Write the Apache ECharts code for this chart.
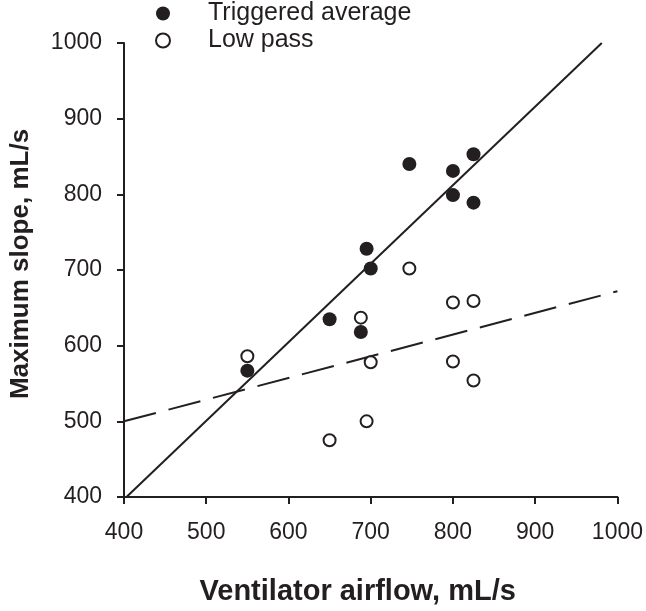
<!DOCTYPE html>
<html>
<head>
<meta charset="utf-8">
<script src="https://cdn.jsdelivr.net/npm/echarts@6/dist/echarts.min.js"></script>
<style>
html,body{margin:0;padding:0;background:#fff;}
#chart{width:646px;height:611px;}
</style>
</head>
<body>
<div id="chart"></div>
<script>
// ---- data ----
const triggeredX = [550, 650, 688, 695, 700, 747, 800, 800, 825, 825];
const triggeredY = [567, 635, 618, 728, 702, 840, 831, 799, 853, 789];
const lowPassX = [550, 650, 688, 695, 700, 747, 800, 800, 825, 825];
const lowPassY = [586, 475, 637, 500, 578, 702, 657, 579, 659, 554];
// regression lines (end points)
const triggeredFitX = [403, 981];
const triggeredFitY = [400, 1000];
const lowPassFitX = [400, 1000];
const lowPassFitY = [500, 672];
const xTicks = [400, 500, 600, 700, 800, 900, 1000];
const yTicks = [400, 500, 600, 700, 800, 900, 1000];
const seriesNames = ['Triggered average', 'Low pass'];
const xTitle = 'Ventilator airflow, mL/s';
const yTitle = 'Maximum slope, mL/s';

const ink = '#231f20';
const font = '"Liberation Sans", Arial, Helvetica, sans-serif';
const zip = (a, b) => a.map((v, i) => [v, b[i]]);
const plain = v => String(v);

const chart = echarts.init(document.getElementById('chart'), null, {renderer: 'canvas'});
chart.setOption({
  backgroundColor: '#fff',
  animation: false,
  grid: {left: 119, right: 27, top: 43, bottom: 107, containLabel: false},
  legend: {
    orient: 'vertical',
    left: 150,
    top: -4,
    itemWidth: 14,
    itemHeight: 14,
    itemGap: 2,
    data: seriesNames,
    textStyle: {fontFamily: font, fontSize: 25, color: ink, lineHeight: 25, padding: [0, 0, 0, 33]}
  },
  xAxis: {
    type: 'value',
    min: xTicks[0],
    max: xTicks[xTicks.length - 1],
    interval: xTicks[1] - xTicks[0],
    name: xTitle,
    nameLocation: 'middle',
    nameGap: 80,
    nameTextStyle: {fontFamily: font, fontSize: 29, fontWeight: 'bold', color: ink, padding: [0, 26, 0, 0]},
    axisLine: {show: true, onZero: false, lineStyle: {color: ink, width: 2}},
    axisTick: {show: true, inside: false, length: 7, lineStyle: {color: ink, width: 2}},
    axisLabel: {fontFamily: font, fontSize: 23, color: ink, margin: 24, formatter: plain},
    splitLine: {show: false}
  },
  yAxis: {
    type: 'value',
    min: yTicks[0],
    max: yTicks[yTicks.length - 1],
    interval: yTicks[1] - yTicks[0],
    name: yTitle,
    nameLocation: 'middle',
    nameRotate: 90,
    nameGap: 90,
    nameTextStyle: {fontFamily: font, fontSize: 26, fontWeight: 'bold', color: ink, padding: [0, 0, 0, 12]},
    axisLine: {show: true, onZero: false, lineStyle: {color: ink, width: 2}},
    axisTick: {show: true, inside: false, length: 7, lineStyle: {color: ink, width: 2}},
    axisLabel: {fontFamily: font, fontSize: 23, color: ink, margin: 22, formatter: plain},
    splitLine: {show: false}
  },
  series: [
    {
      name: 'Triggered fit',
      type: 'line',
      data: zip(triggeredFitX, triggeredFitY),
      symbol: 'none',
      lineStyle: {color: ink, width: 2},
      silent: true,
      z: 1
    },
    {
      name: 'Low pass fit',
      type: 'line',
      data: zip(lowPassFitX, lowPassFitY),
      symbol: 'none',
      lineStyle: {color: ink, width: 2, type: [33, 13]},
      silent: true,
      z: 1
    },
    {
      name: seriesNames[0],
      type: 'scatter',
      data: zip(triggeredX, triggeredY),
      symbol: 'circle',
      symbolSize: 14,
      itemStyle: {color: ink, opacity: 1},
      z: 3
    },
    {
      name: seriesNames[1],
      type: 'scatter',
      data: zip(lowPassX, lowPassY),
      symbol: 'circle',
      symbolSize: 12,
      itemStyle: {color: '#fff', borderColor: ink, borderWidth: 2, opacity: 1},
      z: 3
    }
  ]
});
</script>
</body>
</html>
